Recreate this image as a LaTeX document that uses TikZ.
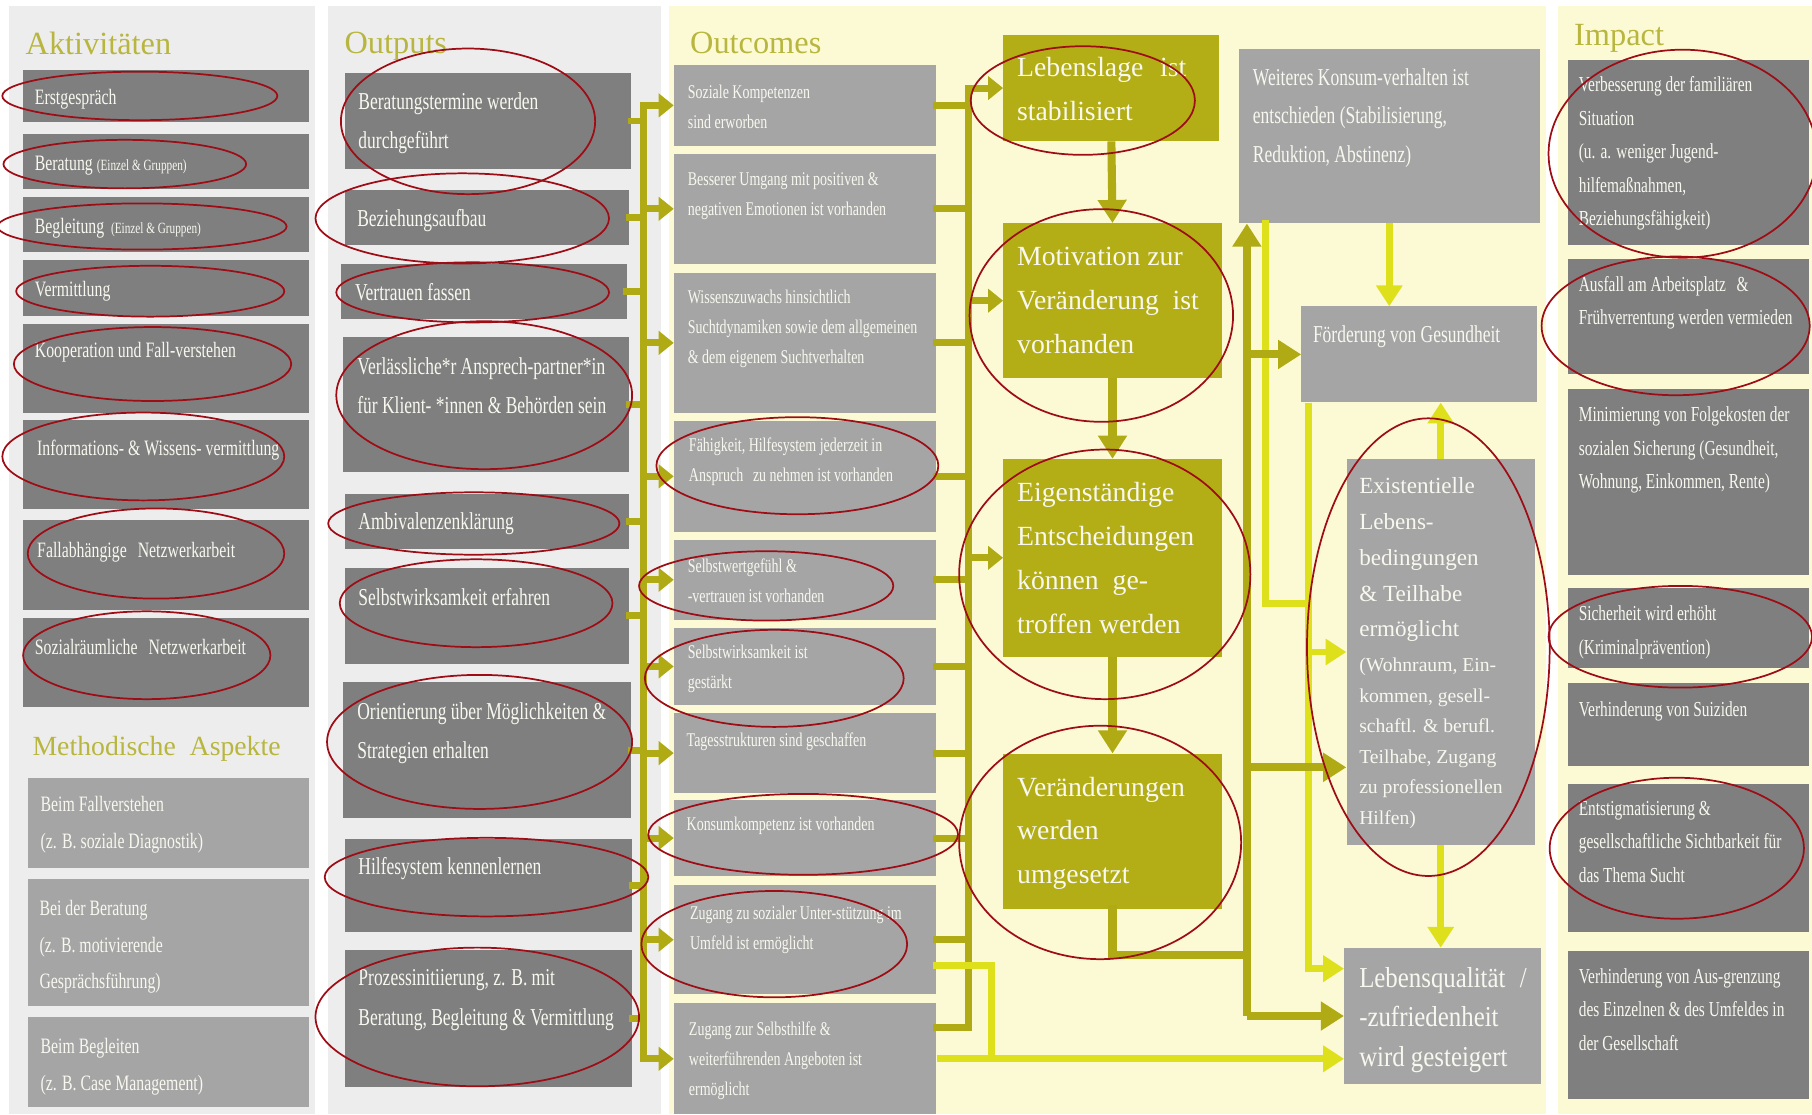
\documentclass[tikz,border=0pt]{standalone}
\usepackage{fontspec}
\setmainfont{Liberation Serif}
\newfontfamily\condfont[FakeStretch=0.72]{Liberation Serif}
\newfontfamily\halfcond[FakeStretch=0.86]{Liberation Serif}
\usetikzlibrary{arrows.meta}

\definecolor{panelgrey}{RGB}{237,237,237}
\definecolor{panelyel}{RGB}{251,250,212}
\definecolor{boxdark}{RGB}{127,127,127}
\definecolor{boxlight}{RGB}{165,165,165}
\definecolor{olivebox}{RGB}{179,173,22}
\definecolor{oliveline}{RGB}{176,170,20}
\definecolor{brightline}{RGB}{222,224,28}
\definecolor{headcol}{RGB}{184,182,62}
\definecolor{ringred}{RGB}{158,12,22}
\definecolor{cellfont}{RGB}{248,248,240}

\begin{document}
\begin{tikzpicture}[x=1pt,y=-1pt,
  head/.style={anchor=base west, inner sep=0, text=headcol, font=\fontsize{28}{30}\selectfont},
  cell/.style={anchor=north west, inner sep=0, draw=none},
  darkcell/.style={cell, fill=boxdark},
  lightcell/.style={cell, fill=boxlight},
  olivecell/.style={cell, fill=olivebox},
  celltext/.style={anchor=north west, inner sep=0, align=left, text=cellfont},
  acttext/.style={celltext, font=\condfont\fontsize{19}{32}\selectfont},
  outtext/.style={celltext, font=\condfont\fontsize{21}{34}\selectfont},
  comtext/.style={celltext, font=\condfont\fontsize{16.8}{26}\selectfont},
  imptext/.style={celltext, font=\condfont\fontsize{18.5}{29}\selectfont},
  bigtext/.style={celltext, font=\fontsize{24}{38}\selectfont},
  feed/.style={draw=oliveline, line width=6pt, line cap=rect},
  feedtip/.style={draw=oliveline, line width=6pt, -{Triangle[width=20pt,length=13pt]}},
  bigline/.style={draw=oliveline, line width=7pt, line cap=rect},
  bigtip/.style={draw=oliveline, line width=7pt, -{Triangle[width=24pt,length=20pt]}},
  lime/.style={draw=brightline, line width=6pt, line cap=rect},
  limetip/.style={draw=brightline, line width=6pt, -{Triangle[width=22pt,length=18pt]}},
  ring/.style={draw=ringred, line width=1.5pt}
]
\useasboundingbox (0,0) rectangle (1568,964);

% columns
\fill[panelgrey] (8,5) rectangle (273,964);
\fill[panelgrey] (284,5) rectangle (572,964);
\fill[panelyel] (579,5) rectangle (1338,964);
\fill[panelyel] (1348,5) rectangle (1568,964);

\node[head] (acthead) at (22,47) {Aktivitäten};
\node[head] (outhead) at (298,46) {Outputs};
\node[head] (comhead) at (597,46) {Outcomes};
\node[head] (imphead) at (1362,39) {Impact};
\node[head, font=\fontsize{24}{26}\selectfont] (methead) at (28,654) {Methodische\enspace Aspekte};

% Aktivitaeten
\node[darkcell, minimum width=247, minimum height=45] (a1) at (20,60) {};
\node[darkcell, minimum width=247, minimum height=47] (a2) at (20,116) {};
\node[darkcell, minimum width=247, minimum height=48] (a3) at (20,170) {};
\node[darkcell, minimum width=247, minimum height=48] (a4) at (20,225) {};
\node[darkcell, minimum width=247, minimum height=77] (a5) at (20,280) {};
\node[darkcell, minimum width=247, minimum height=77] (a6) at (20,363) {};
\node[darkcell, minimum width=247, minimum height=78] (a7) at (20,450) {};
\node[darkcell, minimum width=247, minimum height=77] (a8) at (20,535) {};
\node[acttext] (a1t) at (30,77) {Erstgespräch};
\node[acttext] (a2t) at (30,135) {Beratung {\fontsize{13.5}{14}\selectfont (Einzel \& Gruppen)}};
\node[acttext] (a3t) at (30,189) {Begleitung {\fontsize{13.5}{14}\selectfont\ (Einzel \& Gruppen)}};
\node[acttext] (a4t) at (30,243) {Vermittlung};
\node[acttext] (a5t) at (30,296) {Kooperation und Fall-verstehen};
\node[acttext] (a6t) at (32,381) {Informations- \& Wissens- vermittlung};
\node[acttext] (a7t) at (32,469) {Fallabhängige\enspace Netzwerkarbeit};
\node[acttext] (a8t) at (30,553) {Sozialräumliche\enspace Netzwerkarbeit};

\node[lightcell, minimum width=243, minimum height=78] (m1) at (24,673) {};
\node[lightcell, minimum width=243, minimum height=110] (m2) at (24,760) {};
\node[lightcell, minimum width=243, minimum height=78] (m3) at (24,880) {};
\node[acttext] (m1t) at (35,689) {Beim Fallverstehen\\(z. B. soziale Diagnostik)};
\node[acttext, font=\condfont\fontsize{19}{31.5}\selectfont] (m2t) at (34,779) {Bei der Beratung\\(z. B. motivierende\\Gesprächsführung)};
\node[acttext] (m3t) at (35,898) {Beim Begleiten\\(z. B. Case Management)};

% Outputs
\node[darkcell, minimum width=248, minimum height=83] (o1) at (298,63) {};
\node[darkcell, minimum width=246, minimum height=48] (o2) at (298,164) {};
\node[darkcell, minimum width=247, minimum height=48] (o3) at (295,228) {};
\node[darkcell, minimum width=247, minimum height=117] (o4) at (297,291) {};
\node[darkcell, minimum width=246, minimum height=48] (o5) at (298,427) {};
\node[darkcell, minimum width=246, minimum height=83] (o6) at (298,491) {};
\node[darkcell, minimum width=249, minimum height=118] (o7) at (297,590) {};
\node[darkcell, minimum width=249, minimum height=80] (o8) at (298,726) {};
\node[darkcell, minimum width=249, minimum height=118] (o9) at (298,822) {};
\node[outtext] (o1t) at (310,80) {Beratungstermine werden\\durchgeführt};
\node[outtext] (o2t) at (309,181) {Beziehungsaufbau};
\node[outtext] (o3t) at (307,245) {Vertrauen fassen};
\node[outtext] (o4t) at (309,309) {Verlässliche*r Ansprech-partner*in\\für Klient- *innen \& Behörden sein};
\node[outtext] (o5t) at (310,443) {Ambivalenzenklärung};
\node[outtext] (o6t) at (310,509) {Selbstwirksamkeit erfahren};
\node[outtext] (o7t) at (309,608) {Orientierung über Möglichkeiten \&\\Strategien erhalten};
\node[outtext] (o8t) at (310,742) {Hilfesystem kennenlernen};
\node[outtext] (o9t) at (310,839) {Prozessinitiierung, z. B. mit\\Beratung, Begleitung \& Vermittlung};

% Outcomes
\node[lightcell, minimum width=227, minimum height=70] (c1) at (583,56) {};
\node[lightcell, minimum width=227, minimum height=95] (c2) at (583,133) {};
\node[lightcell, minimum width=227, minimum height=121] (c3) at (583,236) {};
\node[lightcell, minimum width=227, minimum height=96] (c4) at (583,364) {};
\node[lightcell, minimum width=227, minimum height=69] (c5) at (583,467) {};
\node[lightcell, minimum width=227, minimum height=67] (c6) at (583,543) {};
\node[lightcell, minimum width=227, minimum height=69] (c7) at (583,617) {};
\node[lightcell, minimum width=227, minimum height=66] (c8) at (583,692) {};
\node[lightcell, minimum width=227, minimum height=94] (c9) at (583,766) {};
\node[lightcell, minimum width=227, minimum height=96] (c10) at (583,868) {};
\node[comtext] (c1t) at (595,73) {Soziale Kompetenzen\\sind erworben};
\node[comtext] (c2t) at (595,149) {Besserer Umgang mit positiven \&\\negativen Emotionen ist vorhanden};
\node[comtext] (c3t) at (595,251) {Wissenszuwachs hinsichtlich\\Suchtdynamiken sowie dem allgemeinen\\\& dem eigenem Suchtverhalten};
\node[comtext] (c4t) at (596,379) {Fähigkeit, Hilfesystem jederzeit in\\Anspruch\enspace zu nehmen ist vorhanden};
\node[comtext] (c5t) at (595,483) {Selbstwertgefühl \&\\-vertrauen ist vorhanden};
\node[comtext] (c6t) at (595,558) {Selbstwirksamkeit ist\\gestärkt};
\node[comtext] (c7t) at (594,634) {Tagesstrukturen sind geschaffen};
\node[comtext] (c8t) at (594,707) {Konsumkompetenz ist vorhanden};
\node[comtext] (c9t) at (597,784) {Zugang zu sozialer Unter-stützung im\\Umfeld ist ermöglicht};
\node[comtext] (c10t) at (596,884) {Zugang zur Selbsthilfe \&\\weiterführenden Angeboten ist\\ermöglicht};

\node[olivecell, minimum width=187, minimum height=92] (l1) at (868,30) {};
\node[olivecell, minimum width=189, minimum height=134] (l2) at (868,193) {};
\node[olivecell, minimum width=189, minimum height=171] (l3) at (868,397) {};
\node[olivecell, minimum width=189, minimum height=134] (l4) at (868,652) {};
\node[bigtext] (l1t) at (880,49) {Lebenslage\hspace{0.6em}ist\\stabilisiert};
\node[bigtext] (l2t) at (880,214) {Motivation zur\\Veränderung\hspace{0.5em}ist\\vorhanden};
\node[bigtext] (l3t) at (880,417) {Eigenständige\\Entscheidungen\\können\hspace{0.5em}ge-\\troffen werden};
\node[bigtext] (l4t) at (880,672) {Veränderungen\\werden\\umgesetzt};

\node[lightcell, minimum width=260, minimum height=151] (w) at (1072,42) {};
\node[lightcell, minimum width=204, minimum height=83] (f) at (1126,265) {};
\node[lightcell, minimum width=163, minimum height=334] (e) at (1165,397) {};
\node[lightcell, minimum width=170, minimum height=118] (q) at (1163,820) {};
\node[outtext, font=\condfont\fontsize{21}{33.5}\selectfont] (wt) at (1084,59) {Weiteres Konsum-verhalten ist\\entschieden (Stabilisierung,\\Reduktion, Abstinenz)};
\node[outtext] (ft) at (1136,282) {Förderung von Gesundheit};
\node[celltext, font=\fontsize{20}{31}\selectfont] (et) at (1176,413) {Existentielle\\Lebens-\\bedingungen\\\& Teilhabe\\ermöglicht};
\node[celltext, font=\fontsize{17}{26.5}\selectfont] (eu) at (1176,569) {(Wohnraum, Ein-\\kommen, gesell-\\schaftl. \& berufl.\\Teilhabe, Zugang\\zu professionellen\\Hilfen)};
\node[celltext, font=\halfcond\fontsize{25}{34}\selectfont] (qt) at (1176,837) {Lebensqualität\enspace/\\-zufriedenheit\\wird gesteigert};

% Impact
\node[darkcell, minimum width=208, minimum height=160] (i1) at (1357,52) {};
\node[darkcell, minimum width=208, minimum height=99] (i2) at (1357,224) {};
\node[darkcell, minimum width=208, minimum height=161] (i3) at (1357,336) {};
\node[darkcell, minimum width=208, minimum height=69] (i4) at (1357,509) {};
\node[darkcell, minimum width=208, minimum height=72] (i5) at (1357,591) {};
\node[darkcell, minimum width=208, minimum height=128] (i6) at (1357,678) {};
\node[darkcell, minimum width=208, minimum height=128] (i7) at (1357,823) {};
\node[imptext] (i1t) at (1366,66) {Verbesserung der familiären\\Situation\\(u. a. weniger Jugend-\\hilfemaßnahmen,\\Beziehungsfähigkeit)};
\node[imptext] (i2t) at (1366,239) {Ausfall am Arbeitsplatz\enspace\&\\Frühverrentung werden vermieden};
\node[imptext] (i3t) at (1366,352) {Minimierung von Folgekosten der\\sozialen Sicherung (Gesundheit,\\Wohnung, Einkommen, Rente)};
\node[imptext] (i4t) at (1366,524) {Sicherheit wird erhöht\\(Kriminalprävention)};
\node[imptext] (i5t) at (1366,607) {Verhinderung von Suiziden};
\node[imptext] (i6t) at (1366,693) {Entstigmatisierung \&\\gesellschaftliche Sichtbarkeit für\\das Thema Sucht};
\node[imptext] (i7t) at (1366,838) {Verhinderung von Aus-grenzung\\des Einzelnen \& des Umfeldes in\\der Gesellschaft};

% connectors
\coordinate (busa) at (557,0);
\coordinate (busb) at (838,0);
\coordinate (busc) at (1079,0);
\coordinate (busd) at (1132,0);
\coordinate (buse) at (1095,0);
\coordinate (busf) at (858,0);

\draw[feed] (busa |- c1.west) -- (busa |- c10.west);
\foreach \o in {o1,o2,o3,o4,o5,o6,o7,o8,o9}
  \draw[feed] (\o.east) -- (\o.east -| busa);
\foreach \c in {c1,c2,c3,c4,c5,c6,c7,c8,c9,c10}
  \draw[feedtip] (\c.west -| busa) -- (\c.west);

\draw[feed] (busb |- l1.west) -- (busb |- 0,889);
\foreach \c in {c1,c2,c3,c4,c5,c6,c7,c8,c9}
  \draw[feed] (\c.east) -- (\c.east -| busb);
\draw[feed] ([yshift=27pt]c10.east) -- ([yshift=27pt]c10.east -| busb);
\foreach \l in {l1,l2,l3}
  \draw[feedtip] (\l.west -| busb) -- (\l.west);

% bright lines
\draw[limetip] (w.south) -- (w.south |- f.north);
\draw[limetip] (e.north) -- (e.north |- f.south);
\draw[limetip] (e.south) -- (e.south |- q.north);
\draw[lime] (buse |- w.south) |- (busd |- 0,522);
\draw[limetip] (busd |- f.south) |- ([yshift=41pt]q.west);
\draw[limetip] (busd |- e.west) -- (e.west);
\draw[lime] ([yshift=-22pt]c9.east) -| (busf |- c10.east);
\draw[limetip] (c10.east) -- (c10.east -| q.west);

% olive chain
\draw[bigtip] (l1.south) -- (l2.north);
\draw[bigtip] (l2.south) -- (l3.north);
\draw[bigtip] (l3.south) -- (l4.north);
\draw[bigline] (l4.south) |- (busc |- 0,826);
\draw[bigtip] (busc |- q.west) -- (busc |- w.south);
\draw[bigtip] (busc |- q.west) -- (q.west);
\draw[bigtip] (busc |- f.west) -- (f.west);
\draw[bigtip] (busc |- 0,664) -- (e.west |- 0,664);

% red marks
\draw[ring] (121,83) ellipse [x radius=119pt, y radius=21pt];
\draw[ring] (108,142) ellipse [x radius=105pt, y radius=21pt];
\draw[ring] (123,196) ellipse [x radius=125pt, y radius=20pt];
\draw[ring] (130,252) ellipse [x radius=116pt, y radius=22pt];
\draw[ring] (132,315) ellipse [x radius=120pt, y radius=32pt];
\draw[ring] (124,395) ellipse [x radius=122pt, y radius=38pt];
\draw[ring] (135,479) ellipse [x radius=111pt, y radius=39pt];
\draw[ring] (127,567) ellipse [x radius=107pt, y radius=38pt];
\draw[ring] (405,105) ellipse [x radius=110pt, y radius=63pt];
\draw[ring] (400,189) ellipse [x radius=127pt, y radius=39pt];
\draw[ring] (409,253) ellipse [x radius=118pt, y radius=26pt];
\draw[ring] (419,342) ellipse [x radius=128pt, y radius=64pt];
\draw[ring] (410,453) ellipse [x radius=126pt, y radius=27pt];
\draw[ring] (412,522) ellipse [x radius=118pt, y radius=38pt];
\draw[ring] (415,642) ellipse [x radius=132pt, y radius=58pt];
\draw[ring] (421,759) ellipse [x radius=140pt, y radius=34pt];
\draw[ring] (413,880) ellipse [x radius=140pt, y radius=60pt];
\draw[ring] (690,403) ellipse [x radius=122pt, y radius=42pt];
\draw[ring] (663,507) ellipse [x radius=110pt, y radius=30pt];
\draw[ring] (670,587) ellipse [x radius=112pt, y radius=42pt];
\draw[ring] (695,722) ellipse [x radius=134pt, y radius=35pt];
\draw[ring] (670,817) ellipse [x radius=115pt, y radius=46pt];
\draw[ring] (937,87) ellipse [x radius=97pt, y radius=47pt];
\draw[ring] (953,273) ellipse [x radius=114pt, y radius=92pt];
\draw[ring] (956,497) ellipse [x radius=126pt, y radius=108pt];
\draw[ring] (952,729) ellipse [x radius=122pt, y radius=101pt];
\draw[ring] (1236,560) ellipse [x radius=105pt, y radius=198pt];
\draw[ring] (1456,133) ellipse [x radius=116pt, y radius=90pt];
\draw[ring] (1450,282) ellipse [x radius=116pt, y radius=60pt];
\draw[ring] (1454,551) ellipse [x radius=114pt, y radius=44pt];
\draw[ring] (1451,734) ellipse [x radius=110pt, y radius=61pt];
\end{tikzpicture}
\end{document}
